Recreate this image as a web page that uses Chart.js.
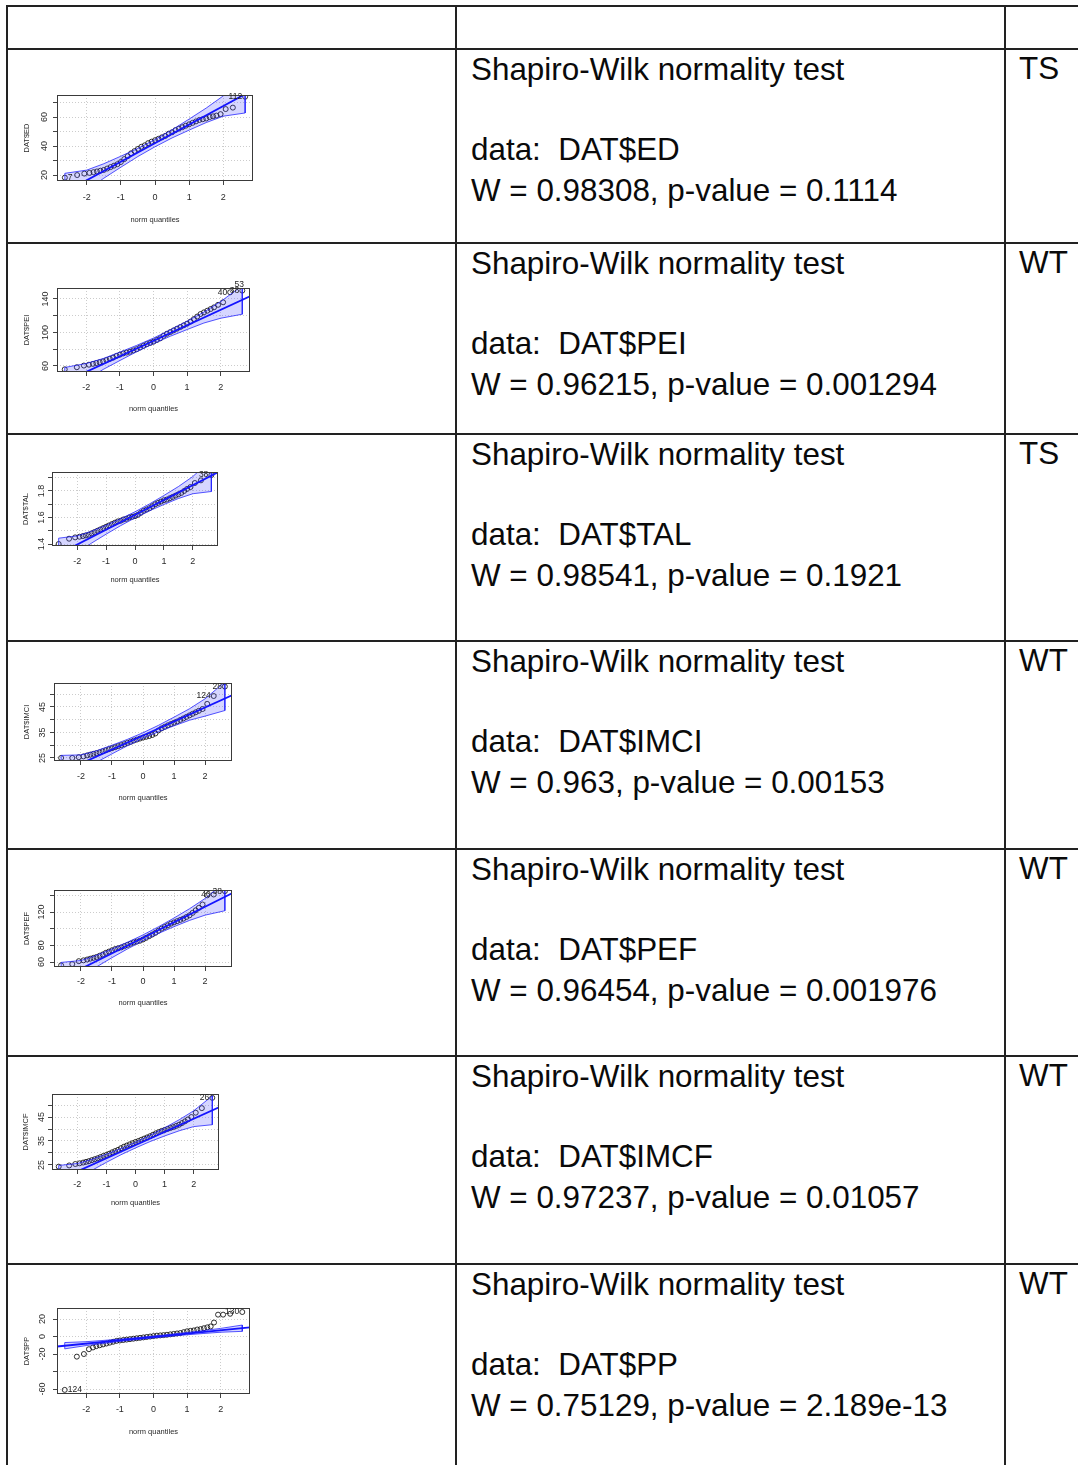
<!DOCTYPE html>
<html>
<head>
<meta charset="utf-8">
<title>Shapiro-Wilk normality tests</title>
<script src="https://cdn.jsdelivr.net/npm/chart.js@4.4.1/dist/chart.umd.min.js"></script>
<style>
    body { margin: 0; background: #fff; }
    #page { position: relative; width: 1078px; height: 1465px; overflow: hidden; font-family: "Liberation Sans", Arial, sans-serif; color: #0a0a0a; }
    .rule { position: absolute; background: #222; }
    .txt { position: absolute; font-size: 31.4px; line-height: 31.4px; white-space: pre; }
    canvas { position: absolute; }
</style>
</head>
<body>
<div id="page"></div>
<script>
(function () {
    "use strict";

    // normal quantiles on the x axis, shared by every panel
    var qx = [-2.64, -2.28, -2.07, -1.92, -1.8, -1.7, -1.6, -1.5, -1.4, -1.3, -1.2, -1.1, -1.0, -0.9, -0.8, -0.7, -0.6, -0.5, -0.4, -0.3, -0.2, -0.1,
        0, 0.1, 0.2, 0.3, 0.4, 0.5, 0.6, 0.7, 0.8, 0.9, 1.0, 1.1, 1.2, 1.3, 1.4, 1.5, 1.6, 1.7, 1.8, 1.92, 2.07, 2.28, 2.64];

    // sorted sample values
    var edY = [18.2, 20, 21, 21.5, 22, 22.5, 23, 23.5, 24.5, 25.5, 26.5, 27.5, 29, 31, 33, 35, 36.5, 38, 39.5, 40.5, 42, 43,
        44, 45, 46, 47, 48.5, 49.5, 51, 52, 53, 54, 55, 56, 57, 58, 58.5, 59, 60, 60.5, 61, 62, 65.5, 66.5, 74];
    var peiY = [56, 58.5, 60.5, 61.5, 62.5, 63.5, 64.5, 65.5, 67, 68.5, 70, 72, 73.5, 75, 76, 77, 78.5, 80, 82, 84, 86, 87.5,
        89, 91, 93, 96, 98.5, 100.5, 102.5, 104.5, 106.5, 108.5, 110.5, 113, 116, 119, 122, 124, 126, 128, 130, 133, 136, 148, 150];
    var talY = [1.40, 1.44, 1.45, 1.455, 1.46, 1.465, 1.47, 1.48, 1.49, 1.50, 1.51, 1.52, 1.53, 1.54, 1.55, 1.56, 1.57, 1.575, 1.585, 1.59, 1.60, 1.605,
        1.61, 1.62, 1.635, 1.65, 1.66, 1.67, 1.685, 1.70, 1.71, 1.72, 1.73, 1.735, 1.745, 1.755, 1.765, 1.775, 1.785, 1.80, 1.815, 1.83, 1.86, 1.88, 1.92];
    var imciY = [25, 25, 25.3, 25.6, 26, 26.3, 26.6, 26.9, 27.2, 27.6, 28, 28.4, 28.8, 29.2, 29.6, 30, 30.4, 30.9, 31.3, 31.8, 32.2, 32.6,
        33, 33.3, 33.6, 34, 34.6, 35.8, 36.6, 37.2, 37.8, 38.3, 38.8, 39.3, 39.9, 40.5, 41.1, 41.7, 42.3, 42.9, 43.5, 44.2, 46.2, 49.3, 53];
    var pefY = [56, 57.5, 61, 62, 63, 64, 65, 66, 67.5, 69, 71, 72.5, 74, 75.5, 76.5, 77.5, 79, 80.5, 82, 83.5, 84.5, 85.5,
        87, 89, 91, 93, 95, 97.5, 100, 102, 104, 106, 107.5, 109, 110.5, 112, 114, 116, 119, 122, 125, 129, 140, 141, 145];
    var imcfY = [24.3, 24.8, 25.4, 25.7, 26, 26.3, 26.6, 27, 27.4, 27.8, 28.3, 28.8, 29.2, 29.7, 30.3, 30.8, 31.3, 32, 32.6, 33.1, 33.6, 34.1,
        34.6, 35, 35.5, 36, 36.5, 37, 37.6, 38.2, 38.7, 39.2, 39.6, 40, 40.4, 40.8, 41.3, 41.8, 42.5, 43.2, 44, 45, 46.8, 48.7, 53];
    var ppY = [-61, -23, -20, -14.5, -12.5, -11, -10, -9, -8, -7, -6, -5, -4.5, -4, -3.5, -3, -2.5, -2, -1.5, -1, -0.5, 0,
        0.5, 1, 1.3, 1.6, 2, 2.5, 3, 3.5, 4, 5, 6, 6.5, 7, 8, 8.5, 9.5, 10.5, 11.5, 16, 25, 25, 26, 28];

    // confidence envelope, upper / lower edge at envX
    var envX = [-2.64, -2, -1.5, -1, -0.5, 0, 0.5, 1, 1.5, 2, 2.64];
    var edUp = [21.2, 23.4, 27.8, 33, 38.4, 44.5, 51.2, 58.6, 66.2, 74.6, 88.8];
    var edLo = [-4.8, 9.4, 17.8, 25.4, 32.8, 39.5, 45.6, 51, 56.2, 60.6, 62.8];
    var peiUp = [58.2, 63, 68.8, 76.5, 84.6, 93.3, 103.1, 113.5, 124.3, 137, 155.8];
    var peiLo = [24.2, 43, 55.8, 66.5, 77, 86.7, 95.5, 103.5, 111.3, 117, 121.8];
    var talUp = [1.444, 1.461, 1.497, 1.542, 1.59, 1.643, 1.702, 1.766, 1.833, 1.909, 2.036];
    var talLo = [1.204, 1.331, 1.407, 1.474, 1.538, 1.597, 1.65, 1.698, 1.743, 1.779, 1.796];
    var imciUp = [26, 26.2, 27.8, 30, 32.3, 34.9, 37.8, 41, 44.3, 48.2, 54.8];
    var imciLo = [12.5, 19.4, 23.3, 26.6, 29.8, 32.7, 35.3, 37.6, 39.8, 41.4, 43.6];
    var pefUp = [59.5, 61.8, 68.1, 75.6, 83.7, 92.5, 102.3, 112.8, 123.9, 136.2, 155.6];
    var pefLo = [22.4, 41.8, 54.1, 65.2, 75.7, 85.5, 94.3, 102.4, 109.9, 116.2, 121.5];
    var imcfUp = [24.8, 25.6, 27.35, 29.5, 31.85, 34.5, 37.35, 40.5, 43.85, 47.6, 53.8];
    var imcfLo = [12.8, 19, 22.75, 26.1, 29.25, 32.1, 34.75, 37.1, 39.25, 41, 41.8];
    var ppUp = [-6.9, -5.9, -4.5, -3, -1.3, 0.5, 2.5, 4.6, 6.9, 9.3, 13.1];
    var ppLo = [-14.1, -10.3, -7.9, -5.6, -3.5, -1.5, 0.3, 2, 3.5, 4.9, 5.9];

    // reference line: intercept / slope
    var fitA = [42, 90, 1.62, 33.8, 89, 33.3, -0.5];
    var fitB = [12.8, 18.5, 0.112, 5.5, 18.6, 5.5, 3.8];

    // axis ticks and the tick labels that are printed
    var xTicks = [-2, -1, 0, 1, 2];
    var edTicks = [20, 30, 40, 50, 60, 70], edLabels = [20, 40, 60];
    var peiTicks = [60, 80, 100, 120, 140], peiLabels = [60, 100, 140];
    var talTicks = [1.4, 1.5, 1.6, 1.7, 1.8, 1.9], talLabels = [1.4, 1.6, 1.8];
    var imciTicks = [25, 30, 35, 40, 45, 50], imciLabels = [25, 35, 45];
    var pefTicks = [60, 80, 100, 120, 140], pefLabels = [60, 80, 120];
    var imcfTicks = [25, 30, 35, 40, 45, 50], imcfLabels = [25, 35, 45];
    var ppTicks = [-60, -40, -20, 0, 20], ppLabels = [-60, -20, 0, 20];

    // y limits
    var yMin = [15.9, 52.8, 1.385, 23.8, 54, 22.9, -65.7];
    var yMax = [75.2, 153.1, 1.943, 54.4, 146.4, 54.6, 32.6];

    // identified points: index, label, side
    var edIds = [[0, '7', 'r'], [44, '112', 'l']];
    var peiIds = [[43, '40', 'l'], [44, '38', 'l'], [44, '53', 'u']];
    var talIds = [[44, '38', 'l']];
    var imciIds = [[43, '124', 'l'], [44, '28', 'l']];
    var pefIds = [[43, '40', 'l'], [44, '38', 'l']];
    var imcfIds = [[44, '26', 'l']];
    var ppIds = [[0, '124', 'r'], [44, '130', 'l']];

    // test output
    var varNames = ['DAT$ED', 'DAT$PEI', 'DAT$TAL', 'DAT$IMCI', 'DAT$PEF', 'DAT$IMCF', 'DAT$PP'];
    var wStat = ['0.98308', '0.96215', '0.98541', '0.963', '0.96454', '0.97237', '0.75129'];
    var pValue = ['0.1114', '0.001294', '0.1921', '0.00153', '0.001976', '0.01057', '2.189e-13'];
    var verdict = ['TS', 'WT', 'TS', 'WT', 'WT', 'WT', 'WT'];

    var panels = [
        {name: varNames[0], y: edY, up: edUp, lo: edLo, ticks: edTicks, labels: edLabels, ids: edIds},
        {name: varNames[1], y: peiY, up: peiUp, lo: peiLo, ticks: peiTicks, labels: peiLabels, ids: peiIds},
        {name: varNames[2], y: talY, up: talUp, lo: talLo, ticks: talTicks, labels: talLabels, ids: talIds},
        {name: varNames[3], y: imciY, up: imciUp, lo: imciLo, ticks: imciTicks, labels: imciLabels, ids: imciIds},
        {name: varNames[4], y: pefY, up: pefUp, lo: pefLo, ticks: pefTicks, labels: pefLabels, ids: pefIds},
        {name: varNames[5], y: imcfY, up: imcfUp, lo: imcfLo, ticks: imcfTicks, labels: imcfLabels, ids: imcfIds},
        {name: varNames[6], y: ppY, up: ppUp, lo: ppLo, ticks: ppTicks, labels: ppLabels, ids: ppIds}
    ];

    // page layout
    var rowLines = [6, 49, 243, 434, 641, 849, 1056, 1264];
    var colLines = [7, 456, 1005];
    var frames = [
        {l: 57, t: 95, r: 253, b: 181, xl: 16.5, xt: 39, yl: 12, yt: 30},
        {l: 57, t: 288, r: 250, b: 372, xl: 16, xt: 37, yl: 11.5, yt: 30},
        {l: 52, t: 472, r: 218, b: 546, xl: 15.7, xt: 34, yl: 10.3, yt: 26},
        {l: 54, t: 683, r: 232, b: 761, xl: 15.7, xt: 37, yl: 11, yt: 27},
        {l: 54, t: 890, r: 232, b: 967, xl: 14.7, xt: 36, yl: 12, yt: 27},
        {l: 52, t: 1094, r: 219, b: 1170, xl: 15, xt: 33, yl: 10, yt: 26},
        {l: 57, t: 1308, r: 250, b: 1394, xl: 16, xt: 38, yl: 14, yt: 30}
    ];
    var X_LIM = 2.87, PAD_L = 45, PAD_T = 12, PAD_R = 12, PAD_B = 48;

    var page = document.getElementById('page');

    // table rules
    rowLines.forEach(function (y) {
        var d = document.createElement('div');
        d.className = 'rule';
        d.style.cssText = 'left:6px;top:' + (y - 1) + 'px;width:1072px;height:2px;';
        page.appendChild(d);
    });
    colLines.forEach(function (x) {
        var d = document.createElement('div');
        d.className = 'rule';
        d.style.cssText = 'left:' + (x - 1) + 'px;top:5px;width:2px;height:1460px;';
        page.appendChild(d);
    });

    // text put on its baseline
    function addText(x, base, str) {
        var d = document.createElement('div');
        d.className = 'txt';
        d.style.left = x + 'px';
        d.style.top = (base - 26.6) + 'px';
        d.textContent = str;
        page.appendChild(d);
    }

    varNames.forEach(function (name, i) {
        var top = rowLines[i + 1];
        addText(471, top + 31.5, 'Shapiro-Wilk normality test');
        addText(471, top + 112, 'data:  ' + name);
        addText(471, top + 152.5, 'W = ' + wStat[i] + ', p-value = ' + pValue[i]);
        addText(1019, top + 30.5, verdict[i]);
    });

    // frame, axis text and point ids drawn with the chart's scales
    function decor(p, f) {
        return {
            id: 'qqDecor',
            afterDraw: function (chart) {
                var ctx = chart.ctx, a = chart.chartArea;
                var xs = chart.scales.x, ys = chart.scales.y;
                ctx.save();
                ctx.strokeStyle = '#3a3a3a';
                ctx.lineWidth = 1;
                ctx.strokeRect(Math.round(a.left) + 0.5, Math.round(a.top) + 0.5,
                    Math.round(a.right - a.left) - 1, Math.round(a.bottom - a.top) - 1);

                ctx.fillStyle = '#2a2a2a';
                ctx.textAlign = 'center';
                ctx.textBaseline = 'middle';
                ctx.font = '9px "Liberation Sans", Arial, sans-serif';
                xTicks.forEach(function (v) {
                    ctx.fillText(String(v), xs.getPixelForValue(v), a.bottom + f.xl);
                });
                p.labels.forEach(function (v) {
                    ctx.save();
                    ctx.translate(a.left - f.yl, ys.getPixelForValue(v));
                    ctx.rotate(-Math.PI / 2);
                    ctx.fillText(String(v), 0, 0);
                    ctx.restore();
                });

                ctx.font = '7.5px "Liberation Sans", Arial, sans-serif';
                ctx.fillText('norm quantiles', (a.left + a.right) / 2, a.bottom + f.xt);
                ctx.save();
                ctx.translate(a.left - f.yt, (a.top + a.bottom) / 2);
                ctx.rotate(-Math.PI / 2);
                ctx.fillText(p.name, 0, 0);
                ctx.restore();

                ctx.font = '8.5px "Liberation Sans", Arial, sans-serif';
                ctx.fillStyle = '#222';
                p.ids.forEach(function (id) {
                    var px = xs.getPixelForValue(qx[id[0]]);
                    var py = ys.getPixelForValue(p.y[id[0]]);
                    if (id[2] === 'l') {
                        ctx.textAlign = 'right';
                        ctx.fillText(id[1], px - 3, py);
                    } else if (id[2] === 'r') {
                        ctx.textAlign = 'left';
                        ctx.fillText(id[1], px + 3, py);
                    } else {
                        ctx.textAlign = 'center';
                        ctx.fillText(id[1], px - 3, py - 6);
                    }
                });
                ctx.restore();
            }
        };
    }

    // qq plots
    panels.forEach(function (p, i) {
        var f = frames[i];
        var w = f.r - f.l + PAD_L + PAD_R;
        var h = f.b - f.t + PAD_T + PAD_B;
        var cv = document.createElement('canvas');
        cv.width = w;
        cv.height = h;
        cv.style.left = (f.l - PAD_L) + 'px';
        cv.style.top = (f.t - PAD_T) + 'px';
        cv.style.width = w + 'px';
        cv.style.height = h + 'px';
        page.appendChild(cv);

        var pts = qx.map(function (x, k) { return {x: x, y: p.y[k]}; });
        var env = envX.map(function (x, k) { return {x: x, y: p.up[k]}; });
        for (var k = envX.length - 1; k >= 0; k--) {
            env.push({x: envX[k], y: p.lo[k]});
        }
        env.push({x: envX[0], y: p.up[0]});
        var fit = [
            {x: -X_LIM, y: fitA[i] - fitB[i] * X_LIM},
            {x: X_LIM, y: fitA[i] + fitB[i] * X_LIM}
        ];

        var ticks = p.ticks;
        new Chart(cv, {
            type: 'scatter',
            data: {
                datasets: [{
                    data: fit,
                    showLine: true,
                    borderColor: '#1414ff',
                    borderWidth: 1.8,
                    pointRadius: 0,
                    order: 1
                }, {
                    data: env,
                    showLine: true,
                    fill: 'shape',
                    backgroundColor: 'rgba(70,70,255,0.22)',
                    borderColor: 'rgba(30,30,255,0.75)',
                    borderWidth: 1,
                    pointRadius: 0,
                    tension: 0,
                    order: 2
                }, {
                    data: pts,
                    showLine: false,
                    pointStyle: 'circle',
                    pointRadius: 2.5,
                    pointBorderWidth: 1,
                    borderColor: 'rgba(15,15,15,0.85)',
                    pointBorderColor: 'rgba(15,15,15,0.85)',
                    backgroundColor: 'rgba(0,0,0,0)',
                    pointBackgroundColor: 'rgba(0,0,0,0)',
                    order: 3
                }]
            },
            options: {
                responsive: false,
                animation: false,
                devicePixelRatio: 1,
                events: [],
                layout: {padding: {left: 0, right: PAD_R, top: PAD_T, bottom: 0}},
                plugins: {legend: {display: false}, tooltip: {enabled: false}},
                scales: {
                    x: {
                        type: 'linear',
                        min: -X_LIM,
                        max: X_LIM,
                        afterBuildTicks: function (s) {
                            s.ticks = xTicks.map(function (v) { return {value: v}; });
                        },
                        afterFit: function (s) { s.height = PAD_B; },
                        ticks: {display: false},
                        grid: {color: 'rgba(0,0,0,0.2)', lineWidth: 1, tickLength: 4, tickColor: '#444', tickBorderDash: []},
                        border: {display: false, dash: [1, 2]}
                    },
                    y: {
                        type: 'linear',
                        min: yMin[i],
                        max: yMax[i],
                        afterBuildTicks: function (s) {
                            s.ticks = ticks.map(function (v) { return {value: v}; });
                        },
                        afterFit: function (s) { s.width = PAD_L; },
                        ticks: {display: false},
                        grid: {color: 'rgba(0,0,0,0.2)', lineWidth: 1, tickLength: 4, tickColor: '#444', tickBorderDash: []},
                        border: {display: false, dash: [1, 2]}
                    }
                }
            },
            plugins: [decor(p, f)]
        });
    });
})();
</script>
</body>
</html>
